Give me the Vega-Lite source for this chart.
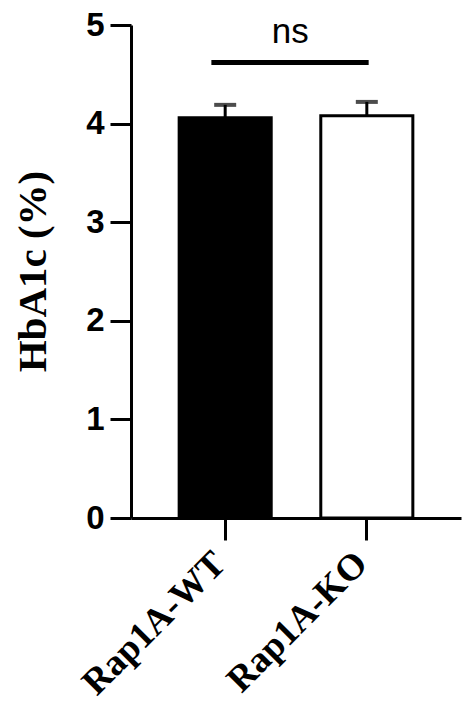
{
  "$schema": "https://vega.github.io/schema/vega-lite/v6.json",
  "autosize": {"type": "none"},
  "padding": {"left": 131, "top": 25, "right": 13, "bottom": 203},
  "width": 330,
  "height": 493,
  "background": "white",
  "config": {"view": {"stroke": null}},
  "data": {
    "values": [
      {"group": "Rap1A-WT", "mean": 4.06, "upper": 4.19},
      {"group": "Rap1A-KO", "mean": 4.08, "upper": 4.22}
    ]
  },
  "layer": [
    {
      "mark": {"type": "bar", "stroke": "black", "strokeWidth": 3},
      "encoding": {
        "x": {
          "field": "group",
          "type": "nominal",
          "sort": null,
          "scale": {"domain": ["Rap1A-WT", "Rap1A-KO"], "paddingInner": 0.35, "paddingOuter": 0.34},
          "axis": {
            "title": null,
            "grid": false,
            "labelAngle": -45,
            "labelAlign": "right",
            "labelBaseline": "top",
            "labelFont": "Liberation Serif",
            "labelFontWeight": "bold",
            "labelFontSize": 37,
            "labelColor": "black",
            "labelPadding": 5,
            "labelOffset": -18,
            "labelLimit": 400,
            "tickSize": 22,
            "tickWidth": 3,
            "tickColor": "black",
            "domainColor": "black",
            "domainWidth": 3
          }
        },
        "y": {
          "field": "mean",
          "type": "quantitative",
          "scale": {"domain": [0, 5], "nice": false},
          "axis": {
            "title": "HbA1c (%)",
            "titleFont": "Liberation Serif",
            "titleFontWeight": "bold",
            "titleFontSize": 41,
            "titleColor": "black",
            "titleX": -98,
            "titleY": 246,
            "titleAlign": "center",
            "titleBaseline": "middle",
            "values": [0, 1, 2, 3, 4, 5],
            "format": "d",
            "grid": false,
            "labelFont": "Liberation Sans",
            "labelFontWeight": "bold",
            "labelFontSize": 33,
            "labelColor": "black",
            "labelPadding": 6,
            "tickSize": 21,
            "tickWidth": 3,
            "tickColor": "black",
            "domainColor": "black",
            "domainWidth": 3
          }
        },
        "fill": {
          "field": "group",
          "type": "nominal",
          "scale": {"domain": ["Rap1A-WT", "Rap1A-KO"], "range": ["black", "white"]},
          "legend": null
        }
      }
    },
    {
      "mark": {"type": "rule", "color": "black", "strokeWidth": 3},
      "encoding": {
        "x": {"field": "group", "type": "nominal", "sort": null},
        "y": {"field": "mean", "type": "quantitative"},
        "y2": {"field": "upper"}
      }
    },
    {
      "mark": {"type": "tick", "color": "black", "size": 22, "thickness": 4, "orient": "horizontal"},
      "encoding": {
        "x": {"field": "group", "type": "nominal", "sort": null},
        "y": {"field": "upper", "type": "quantitative"}
      }
    },
    {
      "data": {"values": [{"from": "Rap1A-WT", "to": "Rap1A-KO", "level": 4.62, "textlevel": 4.82, "label": "ns"}]},
      "layer": [
        {
          "mark": {"type": "rule", "color": "black", "strokeWidth": 5},
          "encoding": {
            "x": {"field": "from", "type": "nominal", "bandPosition": 0.35},
            "x2": {"field": "to", "bandPosition": 0.52},
            "y": {"field": "level", "type": "quantitative"}
          }
        },
        {
          "mark": {"type": "text", "font": "Liberation Sans", "fontSize": 35, "color": "black", "dx": 65, "align": "center", "baseline": "alphabetic"},
          "encoding": {
            "x": {"field": "from", "type": "nominal"},
            "y": {"field": "textlevel", "type": "quantitative"},
            "text": {"field": "label"}
          }
        }
      ]
    }
  ]
}
